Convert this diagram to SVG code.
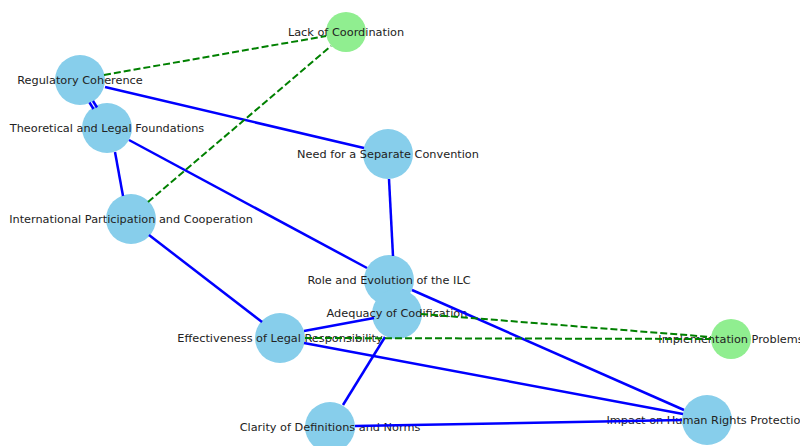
<svg xmlns="http://www.w3.org/2000/svg" width="800" height="446" viewBox="0 0 800 446">
<style>
.n{fill:#87CEEB}
.g{fill:#90EE90}
text{font-family:"DejaVu Sans",sans-serif;font-size:11.3px;fill:#222;text-anchor:middle;dominant-baseline:central}
.s{stroke:#0000FF;stroke-width:2.5;fill:none}
.d{stroke:#008000;stroke-width:2;stroke-dasharray:7,3;fill:none}
</style>
<rect width="800" height="446" fill="#fff"/>
<g id="n-lack"><circle class="g" cx="346" cy="32" r="20"/><text x="346" y="32">Lack of Coordination</text></g>
<g id="n-rc"><circle class="n" cx="80" cy="80" r="25"/><text x="80" y="80">Regulatory Coherence</text></g>
<g id="n-tlf"><circle class="n" cx="107" cy="128" r="25"/><text x="107" y="128">Theoretical and Legal Foundations</text></g>
<g id="n-need"><circle class="n" cx="388" cy="154" r="25"/><text x="388" y="154">Need for a Separate Convention</text></g>
<g id="n-ipc"><circle class="n" cx="131" cy="219" r="25"/><text x="131" y="219">International Participation and Cooperation</text></g>
<g id="n-ilc"><circle class="n" cx="389" cy="280" r="25"/><text x="389" y="280">Role and Evolution of the ILC</text></g>
<g id="n-adq"><circle class="n" cx="397" cy="314" r="25"/><text x="397" y="313">Adequacy of Codification</text></g>
<g id="n-elr"><circle class="n" cx="280" cy="338" r="25"/><text x="280" y="338">Effectiveness of Legal Responsibility</text></g>
<g id="n-imp"><circle class="g" cx="731" cy="339" r="20"/><text x="731" y="339">Implementation Problems</text></g>
<g id="n-cdn"><circle class="n" cx="330" cy="427" r="25"/><text x="330" y="427">Clarity of Definitions and Norms</text></g>
<g id="n-hrp"><circle class="n" cx="707" cy="420" r="25"/><text x="707" y="420">Impact on Human Rights Protection</text></g>
<g id="edges">
<line class="s" x1="89.5" y1="102.5" x2="93.5" y2="109"/>
<line class="s" x1="93" y1="101" x2="97" y2="107.5"/>
<line class="s" x1="105" y1="87" x2="364" y2="148"/>
<line class="s" x1="129" y1="140" x2="367" y2="268"/>
<line class="s" x1="115" y1="152" x2="123" y2="196"/>
<line class="s" x1="389" y1="179" x2="393" y2="256"/>
<line class="s" x1="149" y1="235" x2="262" y2="322"/>
<line class="s" x1="412" y1="290" x2="684" y2="410"/>
<line class="s" x1="304" y1="331" x2="374" y2="318"/>
<line class="s" x1="304" y1="343" x2="683" y2="414"/>
<line class="s" x1="385" y1="337" x2="343" y2="405"/>
<line class="s" x1="355" y1="426" x2="682" y2="420"/>
<line class="d" x1="104" y1="75" x2="326" y2="36"/>
<line class="d" x1="148" y1="202" x2="331" y2="46"/>
<line class="d" x1="421" y1="314" x2="711" y2="337"/>
<line class="d" x1="305" y1="338" x2="711" y2="339"/>
</g>
</svg>
